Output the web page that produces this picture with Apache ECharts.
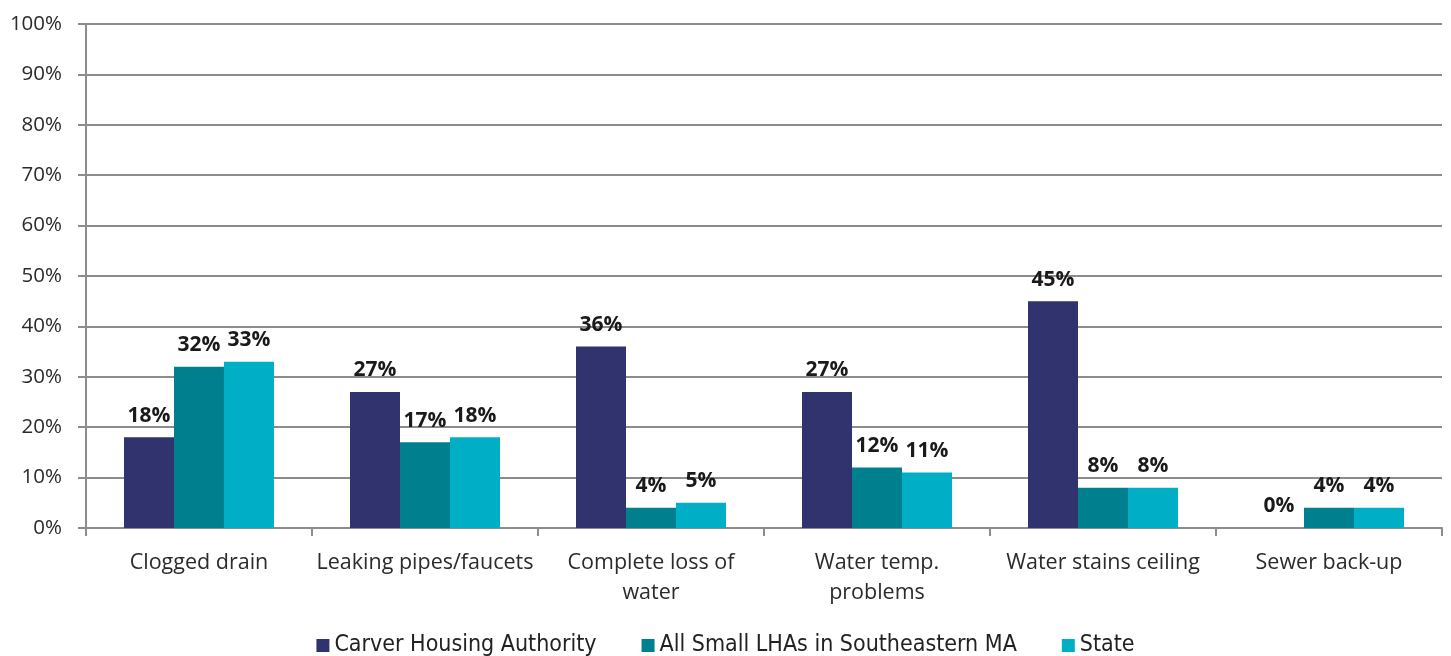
<!DOCTYPE html>
<html><head><meta charset="utf-8">
<script src="https://cdn.jsdelivr.net/npm/echarts@6/dist/echarts.min.js"></script>
<style>html,body{margin:0;padding:0;background:#fff}#c{width:1451px;height:656px}</style>
</head><body><div id="c"></div>
<script>
const categories = ['Clogged drain', 'Leaking pipes/faucets', 'Complete loss of\nwater', 'Water temp.\nproblems', 'Water stains ceiling', 'Sewer back-up'];
const seriesNames = ['Carver Housing Authority', 'All Small LHAs in Southeastern MA', 'State'];
const carver = [18, 27, 36, 27, 45, 0];
const allSmall = [32, 17, 4, 12, 8, 4];
const state = [33, 18, 5, 11, 8, 4];
const colors = ['#31336F', '#007F8E', '#00AEC6'];

const chart = echarts.init(document.getElementById('c'), null, {renderer: 'canvas'});
const font = '"Open Sans", "Noto Sans", sans-serif';
function mk(name, data, color) {
  return {
    name, type: 'bar', data, barWidth: 50, barGap: '0%',
    itemStyle: {color},
    label: {show: true, position: 'top', distance: 11, formatter: p => p.value + '%',
      fontFamily: font, fontWeight: 'bold', fontSize: 21, color: '#1a1a1a'}
  };
}
chart.setOption({
  animation: false,
  grid: {left: 86, right: 9, top: 24, bottom: 128},
  legend: {
    bottom: -6, left: 'center', itemWidth: 13, itemHeight: 13, itemGap: 45, icon: 'rect',
    textStyle: {fontFamily: '"DejaVu Sans Condensed", "Liberation Sans Narrow", sans-serif', fontSize: 23, color: '#222'},
    data: seriesNames
  },
  xAxis: {
    type: 'category', data: categories,
    axisLine: {lineStyle: {color: '#8c8c8c', width: 2}},
    axisTick: {show: true, length: 8, lineStyle: {color: '#8c8c8c', width: 2}},
    axisLabel: {fontFamily: font, fontSize: 21.5, color: '#2b2b2b', margin: 20, lineHeight: 30, interval: 0}
  },
  yAxis: {
    type: 'value', min: 0, max: 100, interval: 10,
    axisLine: {show: true, lineStyle: {color: '#8c8c8c', width: 2}},
    axisTick: {show: true, length: 8, lineStyle: {color: '#8c8c8c', width: 2}},
    splitLine: {lineStyle: {color: '#8c8c8c', width: 2}},
    axisLabel: {formatter: '{value}%', fontFamily: font, fontSize: 20.5, color: '#2b2b2b', margin: 24}
  },
  series: [mk(seriesNames[0], carver, colors[0]), mk(seriesNames[1], allSmall, colors[1]), mk(seriesNames[2], state, colors[2])]
});
</script></body></html>
